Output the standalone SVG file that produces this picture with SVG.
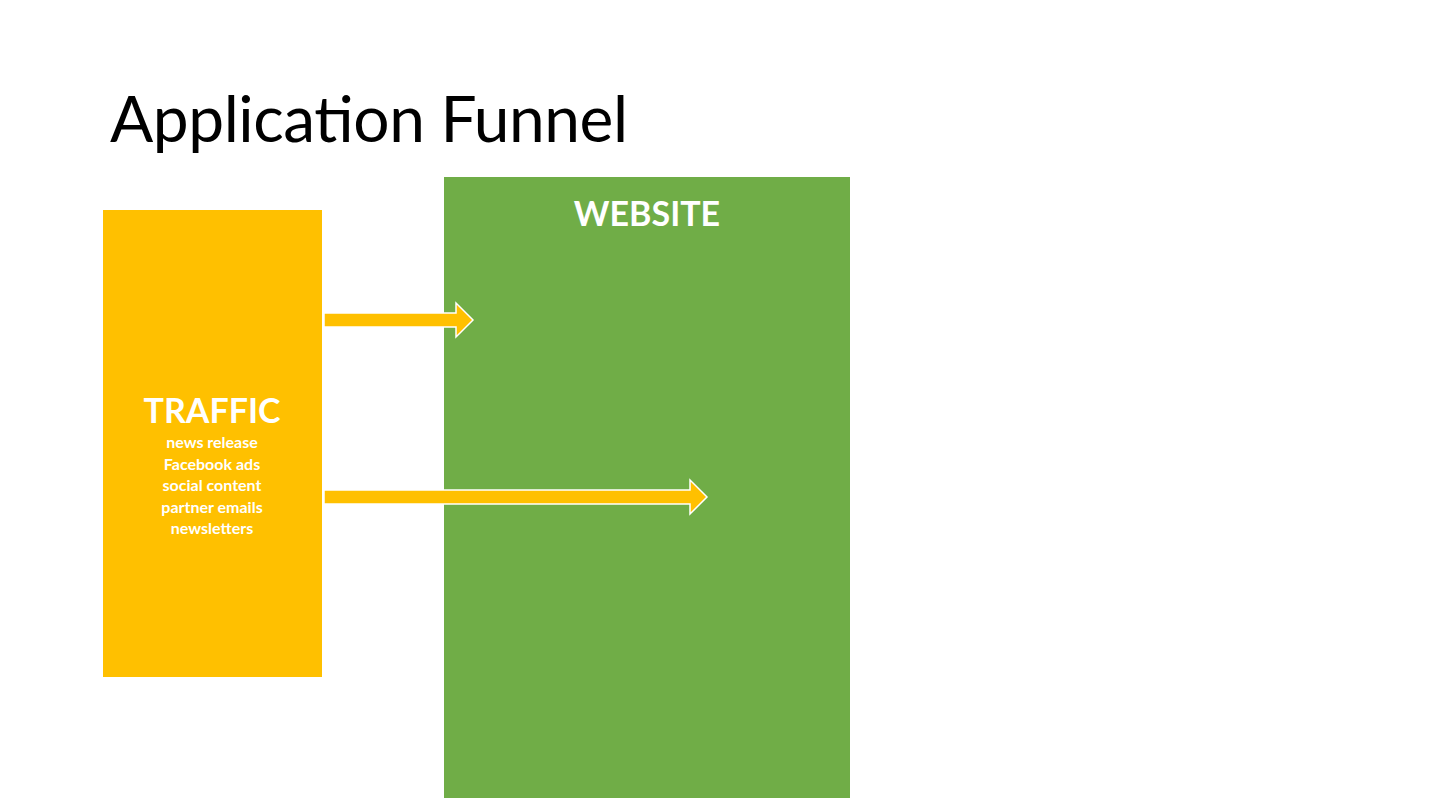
<svg xmlns="http://www.w3.org/2000/svg" width="1440" height="810" viewBox="0 0 1440 810">
<style>
.w{fill:#fff;font-family:Lato,"Liberation Sans",sans-serif;font-weight:bold;text-anchor:middle}
.arr{fill:#FFC000;stroke:#fff;stroke-width:1.5}
</style>
<rect width="1440" height="810" fill="#fff"/>
<text x="110" y="142" font-family="Lato,'Liberation Sans',sans-serif" font-size="64" textLength="518" fill="#000">Application Funnel</text>
<g id="traffic">
<rect x="103" y="210" width="219" height="467" fill="#FFC000"/>
<text class="w" x="212" y="423" font-size="34">TRAFFIC</text>
<text class="w" x="212" y="448" font-size="16">news release</text>
<text class="w" x="212" y="470" font-size="16">Facebook ads</text>
<text class="w" x="212" y="491" font-size="16">social content</text>
<text class="w" x="212" y="513" font-size="16">partner emails</text>
<text class="w" x="212" y="534" font-size="16">newsletters</text>
</g>
<g id="website">
<rect x="444" y="177" width="406" height="621" fill="#70AD47"/>
<text class="w" x="647" y="226" font-size="34">WEBSITE</text>
</g>
<g id="connectors">
<polygon class="arr" points="324,313 456,313 456,303 473,320 456,337 456,327 324,327"/>
<polygon class="arr" points="324,490 690,490 690,480 707,497 690,514 690,504 324,504"/>
</g>
</svg>
